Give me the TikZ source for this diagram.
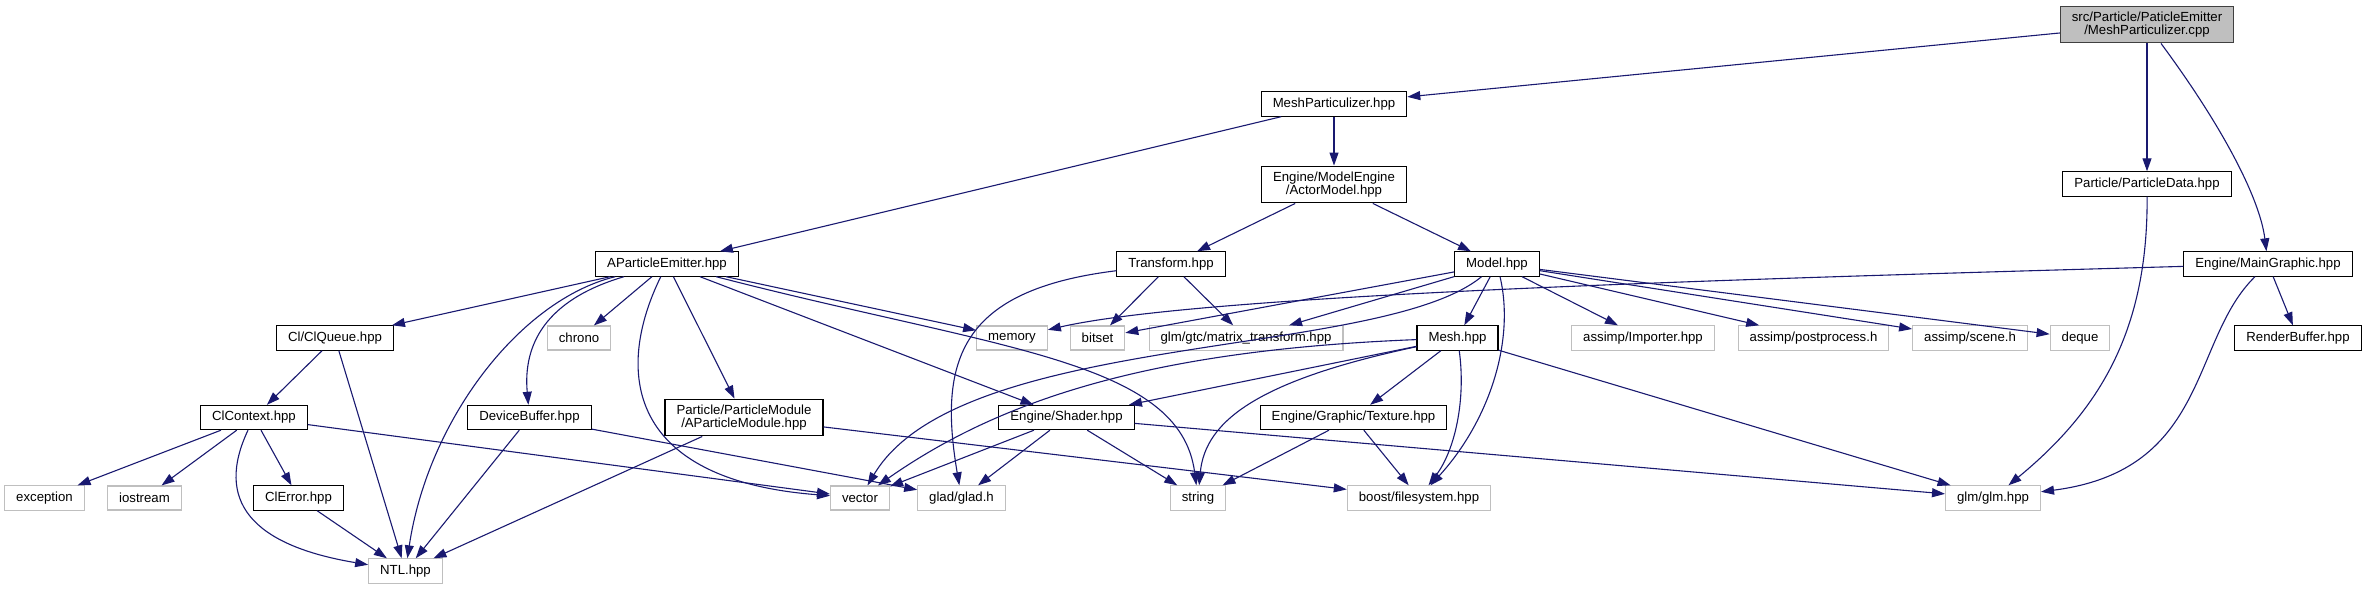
\documentclass[tikz,border=0pt]{standalone}
\usepackage{fontspec}
\setmainfont{Liberation Sans}
\usepackage{tikz}
\usetikzlibrary{arrows.meta}
\definecolor{edgeblue}{HTML}{191970}
\definecolor{sysgrey}{HTML}{BFBFBF}

\begin{document}
\begin{tikzpicture}[
  x=1pt, y=-1pt,
  file/.style={draw, line width=1.1pt, inner xsep=11.5pt, inner ysep=6pt, minimum height=24pt, align=center, font=\fontsize{13.2}{12.5}\selectfont},
  incl/.style={file, draw=black},
  sys/.style={file, draw=sysgrey},
  root/.style={file, draw=black!75, fill=sysgrey},
  edge/.style={edgeblue, line width=1.1pt, -{Triangle[length=13pt, width=9pt]}}
]
  \useasboundingbox (0,0) rectangle (2366,589);

  \node[root] (src) at (2147,24.5) {src/Particle/PaticleEmitter\\/MeshParticulizer.cpp};
  \node[incl] (mph) at (1334,104) {MeshParticulizer.hpp};
  \node[incl] (actor) at (1334,184.5) {Engine/ModelEngine\\/ActorModel.hpp};
  \node[incl] (pdata) at (2147,184) {Particle/ParticleData.hpp};
  \node[incl] (ape) at (667,264) {AParticleEmitter.hpp};
  \node[incl] (transform) at (1171,264) {Transform.hpp};
  \node[incl] (model) at (1497,264) {Model.hpp};
  \node[incl] (maingfx) at (2268,264) {Engine/MainGraphic.hpp};
  \node[incl] (clqueue) at (335,338) {Cl/ClQueue.hpp};
  \node[sys] (chrono) at (579,338) {chrono};
  \node[sys] (memory) at (1012,338) {memory};
  \node[sys] (bitset) at (1097.5,338) {bitset};
  \node[sys] (gtc) at (1246,338) {glm/gtc/matrix\_transform.hpp};
  \node[incl] (mesh) at (1457.5,338) {Mesh.hpp};
  \node[sys] (importer) at (1643,338) {assimp/Importer.hpp};
  \node[sys] (postproc) at (1813.5,338) {assimp/postprocess.h};
  \node[sys] (scene) at (1970,338) {assimp/scene.h};
  \node[sys] (deque) at (2080,338) {deque};
  \node[incl] (renderbuf) at (2298,338) {RenderBuffer.hpp};
  \node[incl] (clcontext) at (254,417.5) {ClContext.hpp};
  \node[incl] (devbuf) at (529.5,417.5) {DeviceBuffer.hpp};
  \node[incl] (pmodule) at (744,417.5) {Particle/ParticleModule\\/AParticleModule.hpp};
  \node[incl] (shader) at (1066.5,417.5) {Engine/Shader.hpp};
  \node[incl] (texture) at (1353.5,417.5) {Engine/Graphic/Texture.hpp};
  \node[sys] (exception) at (44.5,498) {exception};
  \node[sys] (iostream) at (144.5,498) {iostream};
  \node[incl] (clerror) at (298.5,498) {ClError.hpp};
  \node[sys] (vector) at (860,498) {vector};
  \node[sys] (glad) at (961.5,498) {glad/glad.h};
  \node[sys] (string) at (1198,498) {string};
  \node[sys] (boost) at (1419,498) {boost/filesystem.hpp};
  \node[sys] (glm) at (1993,498) {glm/glm.hpp};
  \node[sys] (ntl) at (405.5,571) {NTL.hpp};

  \draw[edge] (src) -- (mph);
  \draw[edge] (src) -- (pdata);
  \draw[edge] (src) .. controls (2225,130) and (2260,200) .. (maingfx);
  \draw[edge] (mph) -- (ape);
  \draw[edge] (mph) -- (actor);
  \draw[edge] (actor) -- (transform);
  \draw[edge] (actor) -- (model);
  \draw[edge] (pdata) .. controls (2148,330) and (2100,410) .. (glm);
  \draw[edge] (maingfx) .. controls (1700,280) and (1200,295) .. (memory);
  \draw[edge] (maingfx) -- (renderbuf);
  \draw[edge] (maingfx) .. controls (2190,340) and (2210,470) .. (glm);

  \draw[edge] (ape) -- (clqueue);
  \draw[edge] (ape) -- (chrono);
  \draw[edge] (ape) .. controls (545,300) and (523,345) .. (devbuf);
  \draw[edge] (ape) .. controls (520,300) and (428,420) .. (ntl);
  \draw[edge] (ape) .. controls (615,370) and (625,480) .. (vector);
  \draw[edge] (ape) -- (pmodule);
  \draw[edge] (ape) -- (shader);
  \draw[edge] (ape) -- (memory);
  \draw[edge] (ape) .. controls (1000,350) and (1180,360) .. (string);

  \draw[edge] (transform) -- (bitset);
  \draw[edge] (transform) -- (gtc);
  \draw[edge] (transform) .. controls (960,290) and (938,360) .. (glad);

  \draw[edge] (model) -- (bitset);
  \draw[edge] (model) -- (gtc);
  \draw[edge] (model) -- (mesh);
  \draw[edge] (model) -- (importer);
  \draw[edge] (model) -- (postproc);
  \draw[edge] (model) -- (scene);
  \draw[edge] (model) -- (deque);
  \draw[edge] (model) .. controls (1380,360) and (960,330) .. (vector);
  \draw[edge] (model) .. controls (1515,340) and (1490,420) .. (boost);

  \draw[edge] (clqueue) -- (clcontext);
  \draw[edge] (clqueue) -- (ntl);
  \draw[edge] (mesh) -- (shader);
  \draw[edge] (mesh) .. controls (1150,350) and (1000,400) .. (vector);
  \draw[edge] (mesh) .. controls (1260,380) and (1205,420) .. (string);
  \draw[edge] (mesh) -- (texture);
  \draw[edge] (mesh) .. controls (1466,400) and (1455,450) .. (boost);
  \draw[edge] (mesh) -- (glm);

  \draw[edge] (clcontext) -- (exception);
  \draw[edge] (clcontext) -- (iostream);
  \draw[edge] (clcontext) -- (clerror);
  \draw[edge] (clcontext) .. controls (215,500) and (250,545) .. (ntl);
  \draw[edge] (clcontext) -- (vector);
  \draw[edge] (devbuf) -- (ntl);
  \draw[edge] (devbuf) -- (glad);
  \draw[edge] (pmodule) -- (ntl);
  \draw[edge] (pmodule) -- (boost);
  \draw[edge] (shader) -- (vector);
  \draw[edge] (shader) -- (glad);
  \draw[edge] (shader) -- (string);
  \draw[edge] (shader) -- (glm);
  \draw[edge] (texture) -- (string);
  \draw[edge] (texture) -- (boost);
  \draw[edge] (clerror) -- (ntl);
\end{tikzpicture}
\end{document}
